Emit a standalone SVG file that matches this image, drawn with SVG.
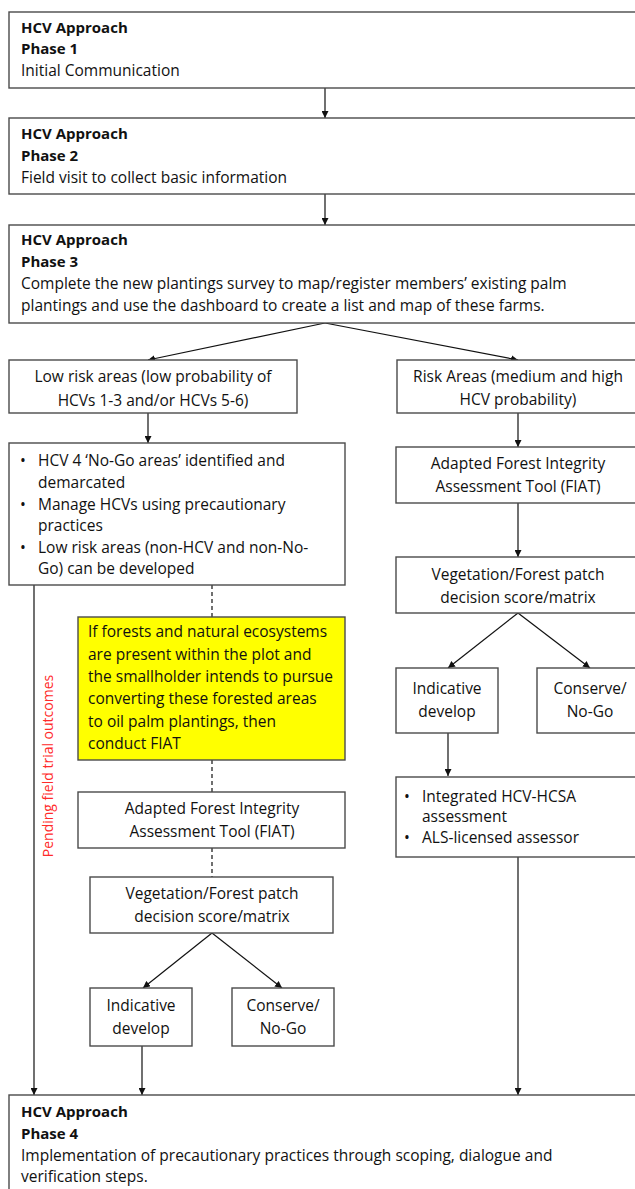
<svg xmlns="http://www.w3.org/2000/svg" width="635" height="1189" viewBox="0 0 635 1189">
<style>
.box{fill:#fff;stroke:#4a4a4a;stroke-width:1.4}
.yel{fill:#ffff00;stroke:#4a4a4a;stroke-width:1.4}
text{font-family:"Open Sans","Liberation Sans",sans-serif;font-size:15.5px;fill:#111}
.b{font-weight:bold;font-size:15px}
.c{text-anchor:middle}
.ln{stroke:#111;stroke-width:1.2;fill:none}
.da{stroke:#111;stroke-width:1.2;fill:none;stroke-dasharray:4,3}
.red{fill:#ff2a2a;font-size:14px}
</style>
<defs>
<marker id="ah" viewBox="0 0 10 10" refX="10" refY="5" markerWidth="7" markerHeight="7" orient="auto" markerUnits="userSpaceOnUse">
<path d="M0,0 L10,5 L0,10 z" fill="#111"/>
</marker>
</defs>
<g id="connectors">
<line class="ln" x1="325" y1="88" x2="325" y2="118" marker-end="url(#ah)"/>
<line class="ln" x1="325" y1="194" x2="325" y2="225" marker-end="url(#ah)"/>
<line class="ln" x1="325" y1="323" x2="148" y2="360" marker-end="url(#ah)"/>
<line class="ln" x1="325" y1="323" x2="518" y2="360" marker-end="url(#ah)"/>
<line class="ln" x1="148" y1="413" x2="148" y2="443" marker-end="url(#ah)"/>
<line class="ln" x1="518" y1="413" x2="518" y2="447" marker-end="url(#ah)"/>
<line class="ln" x1="518" y1="503" x2="518" y2="557" marker-end="url(#ah)"/>
<line class="ln" x1="518" y1="613" x2="448" y2="668" marker-end="url(#ah)"/>
<line class="ln" x1="518" y1="613" x2="590" y2="668" marker-end="url(#ah)"/>
<line class="ln" x1="448" y1="733" x2="448" y2="776" marker-end="url(#ah)"/>
<line class="ln" x1="518" y1="857" x2="518" y2="1095" marker-end="url(#ah)"/>
<line class="ln" x1="34" y1="585" x2="34" y2="1095" marker-end="url(#ah)"/>
<line class="da" x1="212" y1="585" x2="212" y2="617"/>
<line class="da" x1="212" y1="760" x2="212" y2="792"/>
<line class="da" x1="212" y1="848" x2="212" y2="877"/>
<line class="ln" x1="212" y1="933" x2="143" y2="988" marker-end="url(#ah)"/>
<line class="ln" x1="212" y1="933" x2="282" y2="988" marker-end="url(#ah)"/>
<line class="ln" x1="142" y1="1046" x2="142" y2="1095" marker-end="url(#ah)"/>
<text class="red" transform="translate(53,766) rotate(-90)" text-anchor="middle">Pending field trial outcomes</text>
</g>
<g id="phase1">
<rect class="box" x="9" y="12" width="640" height="76"/>
<text class="b" x="21" y="33">HCV Approach</text>
<text class="b" x="21" y="54">Phase 1</text>
<text x="21" y="76">Initial Communication</text>
</g>
<g id="phase2">
<rect class="box" x="9" y="118" width="640" height="76"/>
<text class="b" x="21" y="139">HCV Approach</text>
<text class="b" x="21" y="161">Phase 2</text>
<text x="21" y="183">Field visit to collect basic information</text>
</g>
<g id="phase3">
<rect class="box" x="9" y="225" width="640" height="98"/>
<text class="b" x="21" y="245">HCV Approach</text>
<text class="b" x="21" y="267">Phase 3</text>
<text x="21" y="289">Complete the new plantings survey to map/register members’ existing palm</text>
<text x="21" y="311">plantings and use the dashboard to create a list and map of these farms.</text>
</g>
<g id="lowrisk">
<rect class="box" x="9" y="360" width="288" height="53"/>
<text class="c" x="153" y="382">Low risk areas (low probability of</text>
<text class="c" x="153" y="406">HCVs 1-3 and/or HCVs 5-6)</text>
</g>
<g id="riskareas">
<rect class="box" x="397" y="360" width="250" height="53"/>
<text class="c" x="518" y="382">Risk Areas (medium and high</text>
<text class="c" x="518" y="405">HCV probability)</text>
</g>
<g id="lowrisk-actions">
<rect class="box" x="9" y="443" width="336" height="142"/>
<text x="20" y="466">•</text><text x="38" y="466">HCV 4 ‘No-Go areas’ identified and</text>
<text x="38" y="488">demarcated</text>
<text x="20" y="510">•</text><text x="38" y="510">Manage HCVs using precautionary</text>
<text x="38" y="531">practices</text>
<text x="20" y="553">•</text><text x="38" y="553">Low risk areas (non-HCV and non-No-</text>
<text x="38" y="574">Go) can be developed</text>
</g>
<g id="fiat-right">
<rect class="box" x="396" y="447" width="250" height="56"/>
<text class="c" x="518" y="469">Adapted Forest Integrity</text>
<text class="c" x="518" y="492">Assessment Tool (FIAT)</text>
</g>
<g id="veg-right">
<rect class="box" x="396" y="557" width="250" height="56"/>
<text class="c" x="518" y="580">Vegetation/Forest patch</text>
<text class="c" x="518" y="603">decision score/matrix</text>
</g>
<g id="indicative-right">
<rect class="box" x="396" y="668" width="102" height="65"/>
<text class="c" x="447" y="694">Indicative</text>
<text class="c" x="447" y="717">develop</text>
</g>
<g id="conserve-right">
<rect class="box" x="537" y="668" width="110" height="65"/>
<text class="c" x="590" y="694">Conserve/</text>
<text class="c" x="590" y="717">No-Go</text>
</g>
<g id="integrated">
<rect class="box" x="396" y="777" width="250" height="80"/>
<text x="404" y="802">•</text><text x="422" y="802">Integrated HCV-HCSA</text>
<text x="422" y="822">assessment</text>
<text x="404" y="843">•</text><text x="422" y="843">ALS-licensed assessor</text>
</g>
<g id="conditional">
<rect class="yel" x="78" y="617" width="267" height="143"/>
<text x="88" y="637">If forests and natural ecosystems</text>
<text x="88" y="660">are present within the plot and</text>
<text x="88" y="682">the smallholder intends to pursue</text>
<text x="88" y="704">converting these forested areas</text>
<text x="88" y="727">to oil palm plantings, then</text>
<text x="88" y="749">conduct FIAT</text>
</g>
<g id="fiat-left">
<rect class="box" x="78" y="792" width="267" height="56"/>
<text class="c" x="212" y="814">Adapted Forest Integrity</text>
<text class="c" x="212" y="837">Assessment Tool (FIAT)</text>
</g>
<g id="veg-left">
<rect class="box" x="90" y="877" width="243" height="56"/>
<text class="c" x="212" y="899">Vegetation/Forest patch</text>
<text class="c" x="212" y="922">decision score/matrix</text>
</g>
<g id="indicative-left">
<rect class="box" x="90" y="988" width="102" height="58"/>
<text class="c" x="141" y="1011">Indicative</text>
<text class="c" x="141" y="1034">develop</text>
</g>
<g id="conserve-left">
<rect class="box" x="232" y="988" width="102" height="58"/>
<text class="c" x="283" y="1011">Conserve/</text>
<text class="c" x="283" y="1034">No-Go</text>
</g>
<g id="phase4">
<rect class="box" x="9" y="1095" width="640" height="110"/>
<text class="b" x="21" y="1117">HCV Approach</text>
<text class="b" x="21" y="1139">Phase 4</text>
<text x="21" y="1161">Implementation of precautionary practices through scoping, dialogue and</text>
<text x="21" y="1182">verification steps.</text>
</g>
</svg>
